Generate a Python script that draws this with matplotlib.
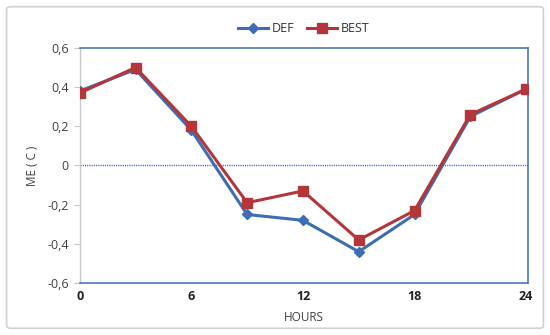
import matplotlib.pyplot as plt
from matplotlib.patches import FancyBboxPatch
from matplotlib.ticker import FuncFormatter

hours = [0, 3, 6, 9, 12, 15, 18, 21, 24]
me_def = [0.38, 0.49, 0.18, -0.25, -0.28, -0.44, -0.25, 0.25, 0.39]
me_best = [0.37, 0.50, 0.20, -0.19, -0.13, -0.38, -0.23, 0.26, 0.39]
x_ticks = [0, 6, 12, 18, 24]
y_ticks = [-0.6, -0.4, -0.2, 0, 0.2, 0.4, 0.6]

BLUE = '#3D6DB5'
RED = '#B3363B'
plt.rcParams['font.family'] = ['Open Sans', 'DejaVu Sans']

fig = plt.figure(figsize=(5.5, 3.35), dpi=100)
# outer chart border (behind the axes)
fig.patches.append(FancyBboxPatch((0.012, 0.02), 0.976, 0.96, boxstyle='round,pad=0,rounding_size=0.008',
                                  transform=fig.transFigure, fc='none', ec='#d0d0d0', lw=1.2, zorder=-1))

ax = fig.add_axes([0.145, 0.155, 0.815, 0.702])
ax.patch.set_alpha(0)
ax.plot(hours, me_def, color=BLUE, lw=2.2, marker='D', ms=5.5, label='DEF', zorder=3)
ax.plot(hours, me_best, color=RED, lw=2.2, marker='s', ms=7, label='BEST', zorder=4)
ax.axhline(0, color='#2F62D8', lw=1.0, ls=(0, (0.8, 0.8)), zorder=2)

ax.set_xlim(0, 24.1)
ax.set_ylim(-0.6, 0.6)
ax.set_xticks(x_ticks)
ax.set_yticks(y_ticks)
ax.yaxis.set_major_formatter(FuncFormatter(lambda v, p: '0' if abs(v) < 1e-9 else f'{v:.1f}'.replace('.', ',')))
ax.tick_params(axis='x', length=0, pad=5, labelsize=9, colors='#222222')
for t in ax.get_xticklabels():
    t.set_fontweight('bold')
ax.tick_params(axis='y', length=4, color='#c8c8c8', labelsize=9, labelcolor='#404040', pad=4)

for side in ['top', 'right', 'bottom']:
    ax.spines[side].set_color(BLUE)
    ax.spines[side].set_linewidth(1.1)
ax.spines['left'].set_color('#c8c8c8')
ax.spines['left'].set_linewidth(1)

ax.set_xlabel('HOURS', fontsize=8.5, color='#404040', labelpad=6)
ax.set_ylabel('ME ( C )', fontsize=8.5, color='#404040', labelpad=6)

leg = ax.legend(loc='lower center', bbox_to_anchor=(0.5, 1.005), ncol=2, frameon=False,
                fontsize=9, handlelength=2.4, columnspacing=1.0, handletextpad=0.3)
for t in leg.get_texts():
    t.set_color('#333333')

fig.savefig('out.png', dpi=100)
